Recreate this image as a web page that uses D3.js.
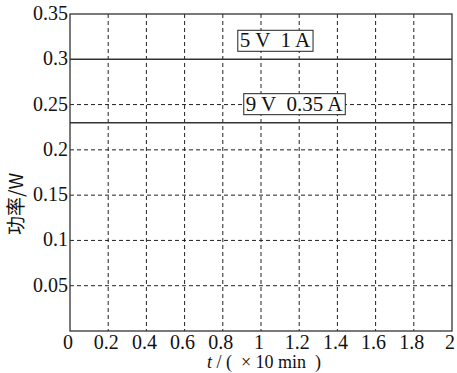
<!DOCTYPE html>
<html>
<head>
<meta charset="utf-8">
<script src="https://cdn.jsdelivr.net/npm/d3@7"></script>
<style>
body { margin: 0; background: #fff; }
</style>
</head>
<body>
<div id="chart"></div>
<script>
// x ticks (t, x10 min) and y ticks (power, W)
var xTicks = [0, 0.2, 0.4, 0.6, 0.8, 1, 1.2, 1.4, 1.6, 1.8, 2]
var yTicks = [0.05, 0.1, 0.15, 0.2, 0.25, 0.3, 0.35]

// constant power lines
var seriesNames = ["5 V  1 A", "9 V  0.35 A"]
var seriesPower = [0.3, 0.23]
var labelX = [1.0, 1.1]

var serif = "'Liberation Serif', 'DejaVu Serif', serif"

var W = 457, H = 373
var margin = {top: 14, right: 5, bottom: 42, left: 70},
    width = W - margin.left - margin.right,
    height = H - margin.top - margin.bottom

var svg = d3.select("#chart").append("svg")
    .attr("width", W).attr("height", H)
    .attr("font-family", serif)
var g = svg.append("g")
    .attr("transform", "translate(" + margin.left + "," + margin.top + ")")

var x = d3.scaleLinear().domain([0, 2]).range([0, width])
var y = d3.scaleLinear().domain([0, 0.35]).range([height, 0])

// dashed grid
g.append("g").selectAll("line")
    .data(xTicks.filter(function(d) { return d > 0 && d < 2 }))
    .enter().append("line")
    .attr("x1", function(d) { return x(d) }).attr("x2", function(d) { return x(d) })
    .attr("y1", 0).attr("y2", height)
    .attr("stroke", "#222").attr("stroke-width", 1).attr("stroke-dasharray", "4,3")
g.append("g").selectAll("line")
    .data(yTicks.filter(function(d) { return d < 0.35 && seriesPower.indexOf(d) < 0 }))
    .enter().append("line")
    .attr("x1", 0).attr("x2", width)
    .attr("y1", function(d) { return y(d) }).attr("y2", function(d) { return y(d) })
    .attr("stroke", "#222").attr("stroke-width", 1).attr("stroke-dasharray", "4,3")

// frame
g.append("rect").attr("width", width).attr("height", height)
    .attr("fill", "none").attr("stroke", "#333").attr("stroke-width", 1.3)

// power lines
g.append("g").selectAll("line").data(seriesPower).enter().append("line")
    .attr("x1", 0).attr("x2", width)
    .attr("y1", function(d) { return y(d) }).attr("y2", function(d) { return y(d) })
    .attr("stroke", "#333").attr("stroke-width", 1.5)

// labels in boxes
seriesNames.forEach(function(name, i) {
    var lg = g.append("g")
    var t = lg.append("text")
        .attr("x", x(labelX[i]) + 14).attr("y", y(seriesPower[i]) - 12)
        .attr("font-size", 21).attr("text-anchor", "middle")
        .attr("fill", "#111")
        .style("white-space", "pre")
        .text(name)
    var bb = t.node().getBBox()
    lg.insert("rect", "text")
        .attr("x", bb.x - 2).attr("y", bb.y + 2)
        .attr("width", bb.width + 4).attr("height", bb.height - 3)
        .attr("fill", "#fff").attr("stroke", "#222").attr("stroke-width", 1)
})

// tick labels
g.append("g").selectAll("text").data(xTicks).enter().append("text")
    .attr("x", function(d) { return x(d) - 2 })
    .attr("y", height + 18)
    .attr("text-anchor", "middle").attr("font-size", 20).attr("fill", "#111")
    .text(function(d) { return d })
g.append("g").selectAll("text").data(yTicks).enter().append("text")
    .attr("x", -2).attr("y", function(d) { return y(d) + 6 })
    .attr("text-anchor", "end").attr("font-size", 20).attr("fill", "#111")
    .text(function(d) { return d })

// axis titles
var xl = svg.append("text")
    .attr("x", 264).attr("y", 368)
    .attr("text-anchor", "middle").attr("font-size", 18).attr("fill", "#111")
    .style("white-space", "pre")
xl.append("tspan").attr("font-style", "italic").text("t")
xl.append("tspan").text(" / (  × 10 min  )")

svg.append("text")
    .attr("transform", "translate(23,204) rotate(-90)")
    .attr("text-anchor", "middle").attr("font-size", 19).attr("fill", "#111")
    .attr("font-family", "'Noto Sans CJK SC', 'Liberation Serif', serif")
    .text("功率/W")
</script>
</body>
</html>
